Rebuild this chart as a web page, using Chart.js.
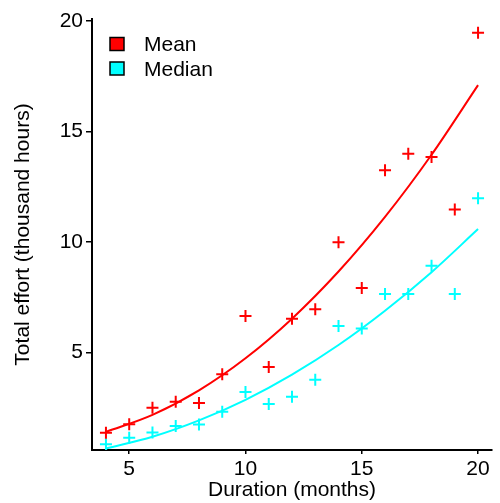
<!DOCTYPE html>
<html lang="en">
<head>
<meta charset="UTF-8">
<title>Total effort vs duration</title>
<script src="https://cdn.jsdelivr.net/npm/chart.js"></script>
<style>
  html, body { margin: 0; padding: 0; background: #fff; }
  .chart-container { width: 500px; height: 503px; }
</style>
</head>
<body>
<div class="chart-container"><canvas id="effortChart" width="500" height="503"></canvas></div>
<script>
// observed values (thousand hours) per project duration (months)
const months = [4, 5, 6, 7, 8, 9, 10, 11, 12, 13, 14, 15, 16, 17, 18, 19, 20];
const meanEffort = [1.38, 1.77, 2.51, 2.78, 2.73, 4.03, 6.66, 4.35, 6.54, 6.97, 10.0, 7.93, 13.25, 14.0, 13.85, 11.47, 19.47];
const medianEffort = [0.86, 1.15, 1.39, 1.68, 1.75, 2.33, 3.22, 2.68, 3.01, 3.78, 6.21, 6.09, 7.66, 7.66, 8.93, 7.66, 11.98];

// fitted curves
const fitMonths = [4, 6, 8, 10, 12, 14, 16, 18, 20];
const meanFit = [1.42, 2.19, 3.30, 4.75, 6.54, 8.67, 11.14, 13.95, 17.1];
const medianFit = [0.67, 1.20, 1.94, 2.87, 4.01, 5.35, 6.90, 8.64, 10.59];

const xTicks = [5, 10, 15, 20];
const yTicks = [5, 10, 15, 20];

const toPoints = (xs, ys) => xs.map((x, i) => ({ x: x, y: ys[i] }));

Chart.defaults.font.family = '"Liberation Sans", Arial, sans-serif';
Chart.defaults.font.size = 21;
Chart.defaults.color = '#000';

// legend drawn inside the plot, top left
const insideLegend = {
    id: 'insideLegend',
    afterDraw(chart) {
        const ctx = chart.ctx;
        const area = chart.chartArea;
        const items = chart.data.datasets.slice(0, 2);
        ctx.save();
        ctx.font = '21px "Liberation Sans", Arial, sans-serif';
        ctx.textBaseline = 'middle';
        ctx.textAlign = 'left';
        items.forEach((ds, i) => {
            const bx = area.left + 18;
            const by = area.top + 18.5 + i * 24.5;
            ctx.fillStyle = ds.borderColor;
            ctx.fillRect(bx, by, 14, 13);
            ctx.lineWidth = 1.5;
            ctx.strokeStyle = '#000';
            ctx.strokeRect(bx, by, 14, 13);
            ctx.fillStyle = '#000';
            ctx.fillText(ds.label, bx + 34, by + 8);
        });
        ctx.restore();
    }
};

const ctx = document.getElementById('effortChart').getContext('2d');
new Chart(ctx, {
    type: 'scatter',
    data: {
        datasets: [
            {
                label: 'Mean',
                data: toPoints(months, meanEffort),
                borderColor: '#ff0000',
                backgroundColor: '#ff0000',
                pointStyle: 'cross',
                pointRadius: 6,
                borderWidth: 2
            },
            {
                label: 'Median',
                data: toPoints(months, medianEffort),
                borderColor: '#00ffff',
                backgroundColor: '#00ffff',
                pointStyle: 'cross',
                pointRadius: 6,
                borderWidth: 2
            },
            {
                label: 'Mean fit',
                data: toPoints(fitMonths, meanFit),
                borderColor: '#ff0000',
                showLine: true,
                pointRadius: 0,
                borderWidth: 2,
                cubicInterpolationMode: 'monotone'
            },
            {
                label: 'Median fit',
                data: toPoints(fitMonths, medianFit),
                borderColor: '#00ffff',
                showLine: true,
                pointRadius: 0,
                borderWidth: 2,
                cubicInterpolationMode: 'monotone'
            }
        ]
    },
    options: {
        responsive: false,
        animation: false,
        layout: { padding: { top: 19, right: 2, left: 0, bottom: 0 } },
        plugins: {
            legend: { display: false },
            tooltip: { enabled: false }
        },
        scales: {
            x: {
                type: 'linear',
                position: 'bottom',
                min: 3.4,
                max: 20.6,
                border: { display: true, color: '#000', width: 2 },
                grid: { drawOnChartArea: false, drawTicks: true, tickLength: 4, color: '#000', lineWidth: 1.5 },
                ticks: { padding: 3, autoSkip: false, maxRotation: 0 },
                afterBuildTicks: scale => { scale.ticks = xTicks.map(v => ({ value: v })); },
                afterFit: scale => { scale.height = 53; },
                title: { display: true, text: 'Duration (months)', padding: { top: 0, bottom: 0 } }
            },
            y: {
                type: 'linear',
                min: 0.6,
                max: 20.09,
                border: { display: true, color: '#000', width: 2 },
                grid: { drawOnChartArea: false, drawTicks: true, tickLength: 6, color: '#000', lineWidth: 1.5 },
                ticks: { padding: 3 },
                afterBuildTicks: scale => { scale.ticks = yTicks.map(v => ({ value: v })); },
                afterFit: scale => { scale.width = 92; },
                title: { display: true, text: 'Total effort (thousand hours)', padding: { top: 11, bottom: 0 } }
            }
        }
    },
    plugins: [insideLegend]
});
</script>
</body>
</html>
